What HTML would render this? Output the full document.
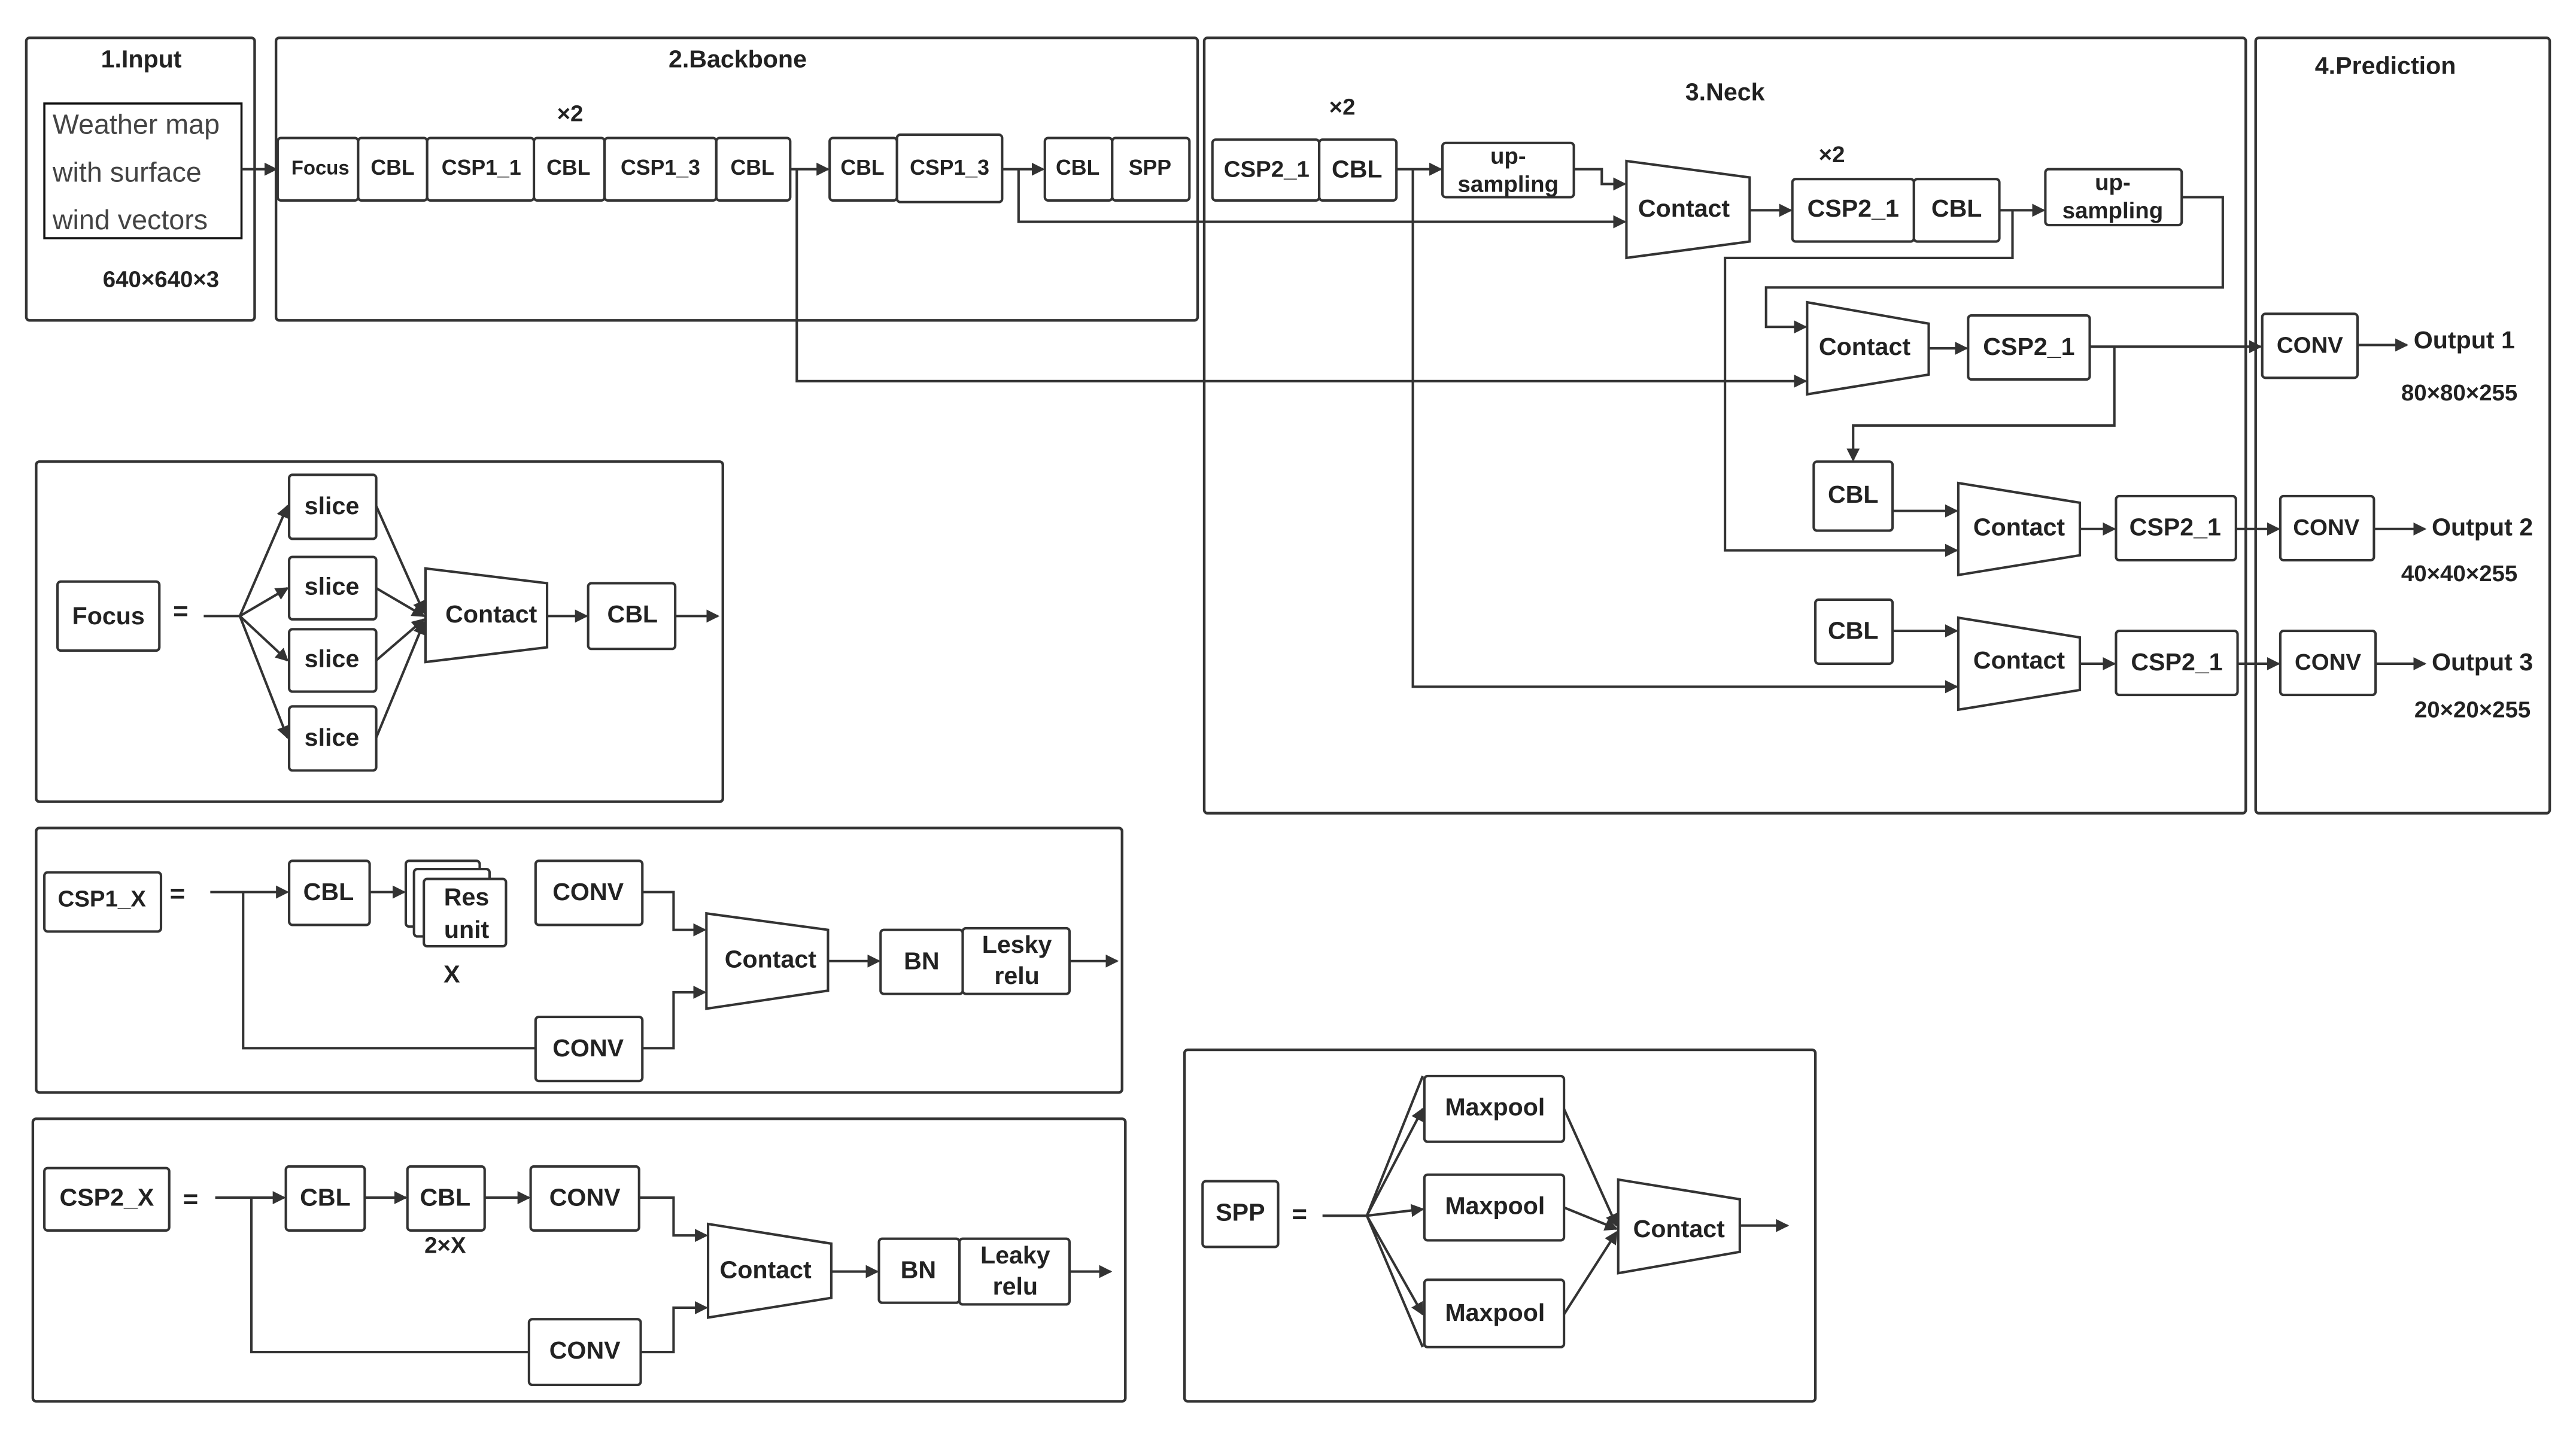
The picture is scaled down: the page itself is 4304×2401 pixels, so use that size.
<!DOCTYPE html>
<html><head><meta charset="utf-8"><style>
html,body{margin:0;padding:0;background:#fff}
svg{display:block}
text{font-family:"Liberation Sans",sans-serif;font-weight:bold;fill:#222;text-anchor:middle;dominant-baseline:middle}
.f{fill:none;stroke:#333;stroke-width:1.6}
.b{fill:#fff;stroke:#333;stroke-width:1.5}
.l{fill:none;stroke:#333;stroke-width:1.5}
.a{fill:none;stroke:#333;stroke-width:1.5;marker-end:url(#ah)}
</style></head><body>
<svg width="4304" height="2401" viewBox="0 0 1568 874.7" preserveAspectRatio="none" xmlns="http://www.w3.org/2000/svg">
<defs><marker id="ah" markerWidth="8" markerHeight="8" refX="7" refY="4" orient="auto" markerUnits="userSpaceOnUse"><path d="M0,0 L8,4 L0,8 z" fill="#333"/></marker></defs>
<rect width="1568" height="874.7" fill="#fff"/>
<!-- frames -->
<rect class="f" x="16" y="23" width="139" height="172" rx="2"/>
<rect class="f" x="168" y="23" width="561" height="172" rx="2"/>
<rect class="f" x="733" y="23" width="634" height="472" rx="2"/>
<rect class="f" x="1373" y="23" width="179" height="472" rx="2"/>
<rect class="f" x="22" y="281" width="418" height="207" rx="2"/>
<rect class="f" x="22" y="504" width="661" height="161" rx="2"/>
<rect class="f" x="20" y="681" width="665" height="172" rx="2"/>
<rect class="f" x="721" y="639" width="384" height="214" rx="2"/>

<!-- input -->
<text x="86" y="37" font-size="15">1.Input</text>
<rect x="27" y="63" width="120" height="82" fill="none" stroke="#111" stroke-width="1.3"/>
<g style="font-weight:normal">
<text x="32" y="77" font-size="17" style="text-anchor:start;font-weight:normal;fill:#444">Weather map</text>
<text x="32" y="106" font-size="17" style="text-anchor:start;font-weight:normal;fill:#444">with surface</text>
<text x="32" y="135" font-size="17" style="text-anchor:start;font-weight:normal;fill:#444">wind vectors</text>
</g>
<text x="98" y="171" font-size="14">640×640×3</text>
<line class="a" x1="147" y1="103" x2="168" y2="103"/>

<!-- backbone -->
<text x="449" y="37" font-size="15">2.Backbone</text>
<text x="347" y="70" font-size="14">×2</text>
<g font-size="13">
<rect class="b" x="169" y="84" width="49" height="38" rx="2"/><text x="195" y="103" font-size="12">Focus</text>
<rect class="b" x="218" y="84" width="42" height="38" rx="2"/><text x="239" y="103">CBL</text>
<rect class="b" x="260" y="84" width="65" height="38" rx="2"/><text x="293" y="103">CSP1_1</text>
<rect class="b" x="325" y="84" width="43" height="38" rx="2"/><text x="346" y="103">CBL</text>
<rect class="b" x="368" y="84" width="68" height="38" rx="2"/><text x="402" y="103">CSP1_3</text>
<rect class="b" x="436" y="84" width="45" height="38" rx="2"/><text x="458" y="103">CBL</text>
<rect class="b" x="505" y="84" width="41" height="38" rx="2"/><text x="525" y="103">CBL</text>
<rect class="b" x="546" y="82" width="64" height="41" rx="2"/><text x="578" y="103">CSP1_3</text>
<rect class="b" x="636" y="84" width="41" height="38" rx="2"/><text x="656" y="103">CBL</text>
<rect class="b" x="677" y="84" width="47" height="38" rx="2"/><text x="700" y="103">SPP</text>
</g>
<line class="a" x1="481" y1="103" x2="504" y2="103"/>
<line class="a" x1="610" y1="103" x2="635" y2="103"/>
<polyline class="a" points="485,103 485,232 1099,232"/>
<polyline class="a" points="620,103 620,135 989,135"/>

<!-- neck -->
<text x="1050" y="57" font-size="15">3.Neck</text>
<text x="817" y="66" font-size="14">×2</text>
<text x="1115" y="95" font-size="14">×2</text>
<rect class="b" x="738" y="85" width="65" height="37" rx="2"/><text x="771" y="104" font-size="14">CSP2_1</text>
<rect class="b" x="803" y="85" width="47" height="37" rx="2"/><text x="826" y="104" font-size="15">CBL</text>
<line class="a" x1="850" y1="103" x2="877" y2="103"/>
<rect class="b" x="878" y="87" width="80" height="33" rx="2"/><text x="918" y="96" font-size="14">up-</text><text x="918" y="113" font-size="14">sampling</text>
<polyline class="a" points="958,103 975,103 975,112 989,112"/>
<polygon class="b" points="990,98 1065,108 1065,147 990,157"/><text x="1025" y="128" font-size="15">Contact</text>
<line class="a" x1="1065" y1="128" x2="1090" y2="128"/>
<rect class="b" x="1091" y="109" width="74" height="38" rx="2"/><text x="1128" y="128" font-size="15">CSP2_1</text>
<rect class="b" x="1165" y="109" width="52" height="38" rx="2"/><text x="1191" y="128" font-size="15">CBL</text>
<line class="a" x1="1217" y1="128" x2="1244" y2="128"/>
<rect class="b" x="1245" y="103" width="83" height="34" rx="2"/><text x="1286" y="112" font-size="14">up-</text><text x="1286" y="129" font-size="14">sampling</text>
<polyline class="a" points="1225,128 1225,157 1050,157 1050,335 1191,335"/>
<polyline class="a" points="1328,120 1353,120 1353,175 1075,175 1075,199 1099,199"/>
<polygon class="b" points="1100,184 1174,197 1174,228 1100,240"/><text x="1135" y="212" font-size="15">Contact</text>
<line class="a" x1="1174" y1="212" x2="1197" y2="212"/>
<rect class="b" x="1198" y="192" width="74" height="39" rx="2"/><text x="1235" y="212" font-size="15">CSP2_1</text>
<line class="a" x1="1272" y1="211" x2="1376" y2="211"/>
<polyline class="a" points="1287,211 1287,259 1128,259 1128,280"/>
<rect class="b" x="1104" y="281" width="48" height="42" rx="2"/><text x="1128" y="302" font-size="15">CBL</text>
<line class="a" x1="1152" y1="311" x2="1191" y2="311"/>
<polygon class="b" points="1192,294 1266,306 1266,338 1192,350"/><text x="1229" y="322" font-size="15">Contact</text>
<line class="a" x1="1266" y1="322" x2="1287" y2="322"/>
<rect class="b" x="1288" y="302" width="73" height="39" rx="2"/><text x="1324" y="322" font-size="15">CSP2_1</text>
<rect class="b" x="1105" y="365" width="47" height="39" rx="2"/><text x="1128" y="385" font-size="15">CBL</text>
<line class="a" x1="1152" y1="384" x2="1191" y2="384"/>
<polygon class="b" points="1192,376 1266,388 1266,420 1192,432"/><text x="1229" y="403" font-size="15">Contact</text>
<line class="a" x1="1266" y1="404" x2="1287" y2="404"/>
<rect class="b" x="1288" y="384" width="74" height="39" rx="2"/><text x="1325" y="404" font-size="15">CSP2_1</text>
<polyline class="a" points="860,103 860,418 1191,418"/>

<!-- prediction -->
<text x="1452" y="41" font-size="15">4.Prediction</text>
<rect class="b" x="1377" y="191" width="58" height="39" rx="2"/><text x="1406" y="211" font-size="14">CONV</text>
<line class="a" x1="1435" y1="210" x2="1465" y2="210"/>
<text x="1500" y="208" font-size="15">Output 1</text><text x="1497" y="240" font-size="14">80×80×255</text>
<line class="a" x1="1361" y1="322" x2="1387" y2="322"/>
<rect class="b" x="1388" y="302" width="57" height="39" rx="2"/><text x="1416" y="322" font-size="14">CONV</text>
<line class="a" x1="1445" y1="322" x2="1476" y2="322"/>
<text x="1511" y="322" font-size="15">Output 2</text><text x="1497" y="350" font-size="14">40×40×255</text>
<line class="a" x1="1362" y1="404" x2="1387" y2="404"/>
<rect class="b" x="1388" y="384" width="58" height="39" rx="2"/><text x="1417" y="404" font-size="14">CONV</text>
<line class="a" x1="1446" y1="404" x2="1476" y2="404"/>
<text x="1511" y="404" font-size="15">Output 3</text><text x="1505" y="433" font-size="14">20×20×255</text>

<!-- focus panel -->
<rect class="b" x="35" y="354" width="62" height="42" rx="2"/><text x="66" y="376" font-size="15">Focus</text>
<text x="110" y="373" font-size="16">=</text>
<line class="l" x1="124" y1="375" x2="146" y2="375"/>
<line class="a" x1="146" y1="375" x2="175" y2="308"/>
<line class="a" x1="146" y1="375" x2="175" y2="358"/>
<line class="a" x1="146" y1="375" x2="175" y2="402"/>
<line class="a" x1="146" y1="375" x2="175" y2="449"/>
<rect class="b" x="176" y="289" width="53" height="39" rx="2"/><text x="202" y="309" font-size="15">slice</text>
<rect class="b" x="176" y="339" width="53" height="38" rx="2"/><text x="202" y="358" font-size="15">slice</text>
<rect class="b" x="176" y="383" width="53" height="38" rx="2"/><text x="202" y="402" font-size="15">slice</text>
<rect class="b" x="176" y="430" width="53" height="39" rx="2"/><text x="202" y="450" font-size="15">slice</text>
<line class="a" x1="229" y1="308" x2="258" y2="373"/>
<line class="a" x1="229" y1="358" x2="258" y2="375"/>
<line class="a" x1="229" y1="402" x2="258" y2="377"/>
<line class="a" x1="229" y1="449" x2="258" y2="379"/>
<polygon class="b" points="259,346 333,355 333,394 259,403"/><text x="299" y="375" font-size="15">Contact</text>
<line class="a" x1="333" y1="375" x2="357" y2="375"/>
<rect class="b" x="358" y="355" width="53" height="40" rx="2"/><text x="385" y="375" font-size="15">CBL</text>
<line class="a" x1="411" y1="375" x2="437" y2="375"/>

<!-- CSP1_X -->
<rect class="b" x="27" y="531" width="71" height="36" rx="2"/><text x="62" y="548" font-size="14">CSP1_X</text>
<text x="108" y="545" font-size="16">=</text>
<line class="a" x1="128" y1="543" x2="175" y2="543"/>
<polyline class="l" points="148,543 148,638 326,638"/>
<rect class="b" x="176" y="524" width="49" height="39" rx="2"/><text x="200" y="544" font-size="15">CBL</text>
<line class="a" x1="225" y1="543" x2="246" y2="543"/>
<rect class="b" x="247" y="524" width="45" height="40" rx="2"/>
<rect class="b" x="252" y="529" width="46" height="41" rx="2"/>
<rect class="b" x="258" y="535" width="50" height="41" rx="2"/>
<text x="284" y="547" font-size="15">Res</text><text x="284" y="567" font-size="15">unit</text>
<text x="275" y="594" font-size="15">X</text>
<rect class="b" x="326" y="524" width="65" height="39" rx="2"/><text x="358" y="544" font-size="15">CONV</text>
<polyline class="a" points="391,543 410,543 410,566 429,566"/>
<rect class="b" x="326" y="619" width="65" height="39" rx="2"/><text x="358" y="639" font-size="15">CONV</text>
<polyline class="a" points="391,638 410,638 410,604 429,604"/>
<polygon class="b" points="430,556 504,566 504,603 430,614"/><text x="469" y="585" font-size="15">Contact</text>
<line class="a" x1="504" y1="585" x2="535" y2="585"/>
<rect class="b" x="536" y="566" width="50" height="39" rx="2"/><text x="561" y="586" font-size="15">BN</text>
<rect class="b" x="586" y="565" width="65" height="40" rx="2"/><text x="619" y="576" font-size="15">Lesky</text><text x="619" y="595" font-size="15">relu</text>
<line class="a" x1="651" y1="585" x2="680" y2="585"/>

<!-- CSP2_X -->
<rect class="b" x="27" y="711" width="76" height="38" rx="2"/><text x="65" y="730" font-size="15">CSP2_X</text>
<text x="116" y="731" font-size="16">=</text>
<line class="a" x1="131" y1="729" x2="173" y2="729"/>
<polyline class="l" points="153,729 153,823 322,823"/>
<rect class="b" x="174" y="710" width="48" height="39" rx="2"/><text x="198" y="730" font-size="15">CBL</text>
<line class="a" x1="222" y1="729" x2="247" y2="729"/>
<rect class="b" x="248" y="710" width="47" height="39" rx="2"/><text x="271" y="730" font-size="15">CBL</text>
<text x="271" y="759" font-size="14">2×X</text>
<line class="a" x1="295" y1="729" x2="322" y2="729"/>
<rect class="b" x="323" y="710" width="66" height="39" rx="2"/><text x="356" y="730" font-size="15">CONV</text>
<polyline class="a" points="389,729 410,729 410,752 430,752"/>
<rect class="b" x="322" y="803" width="68" height="40" rx="2"/><text x="356" y="823" font-size="15">CONV</text>
<polyline class="a" points="390,823 410,823 410,796 430,796"/>
<polygon class="b" points="431,745 506,757 506,790 431,802"/><text x="466" y="774" font-size="15">Contact</text>
<line class="a" x1="506" y1="774" x2="534" y2="774"/>
<rect class="b" x="535" y="754" width="49" height="39" rx="2"/><text x="559" y="774" font-size="15">BN</text>
<rect class="b" x="584" y="754" width="67" height="40" rx="2"/><text x="618" y="765" font-size="15">Leaky</text><text x="618" y="784" font-size="15">relu</text>
<line class="a" x1="651" y1="774" x2="676" y2="774"/>

<!-- SPP -->
<rect class="b" x="732" y="719" width="46" height="40" rx="2"/><text x="755" y="739" font-size="15">SPP</text>
<text x="791" y="740" font-size="16">=</text>
<line class="l" x1="805" y1="740" x2="832" y2="740"/>
<line class="a" x1="832" y1="740" x2="866" y2="675"/>
<line class="a" x1="832" y1="740" x2="866" y2="736"/>
<line class="a" x1="832" y1="740" x2="866" y2="800"/>
<polyline class="l" points="832,740 866,820"/>
<polyline class="l" points="866,655 832,740"/>
<rect class="b" x="867" y="655" width="85" height="40" rx="2"/><text x="910" y="675" font-size="15">Maxpool</text>
<rect class="b" x="867" y="715" width="85" height="40" rx="2"/><text x="910" y="735" font-size="15">Maxpool</text>
<rect class="b" x="867" y="779" width="85" height="41" rx="2"/><text x="910" y="800" font-size="15">Maxpool</text>
<line class="a" x1="952" y1="675" x2="984" y2="746"/>
<line class="a" x1="952" y1="735" x2="984" y2="748"/>
<line class="a" x1="952" y1="800" x2="984" y2="750"/>
<polygon class="b" points="985,718 1059,730 1059,762 985,775"/><text x="1022" y="749" font-size="15">Contact</text>
<line class="a" x1="1059" y1="746" x2="1088" y2="746"/>
</svg>
</body></html>
